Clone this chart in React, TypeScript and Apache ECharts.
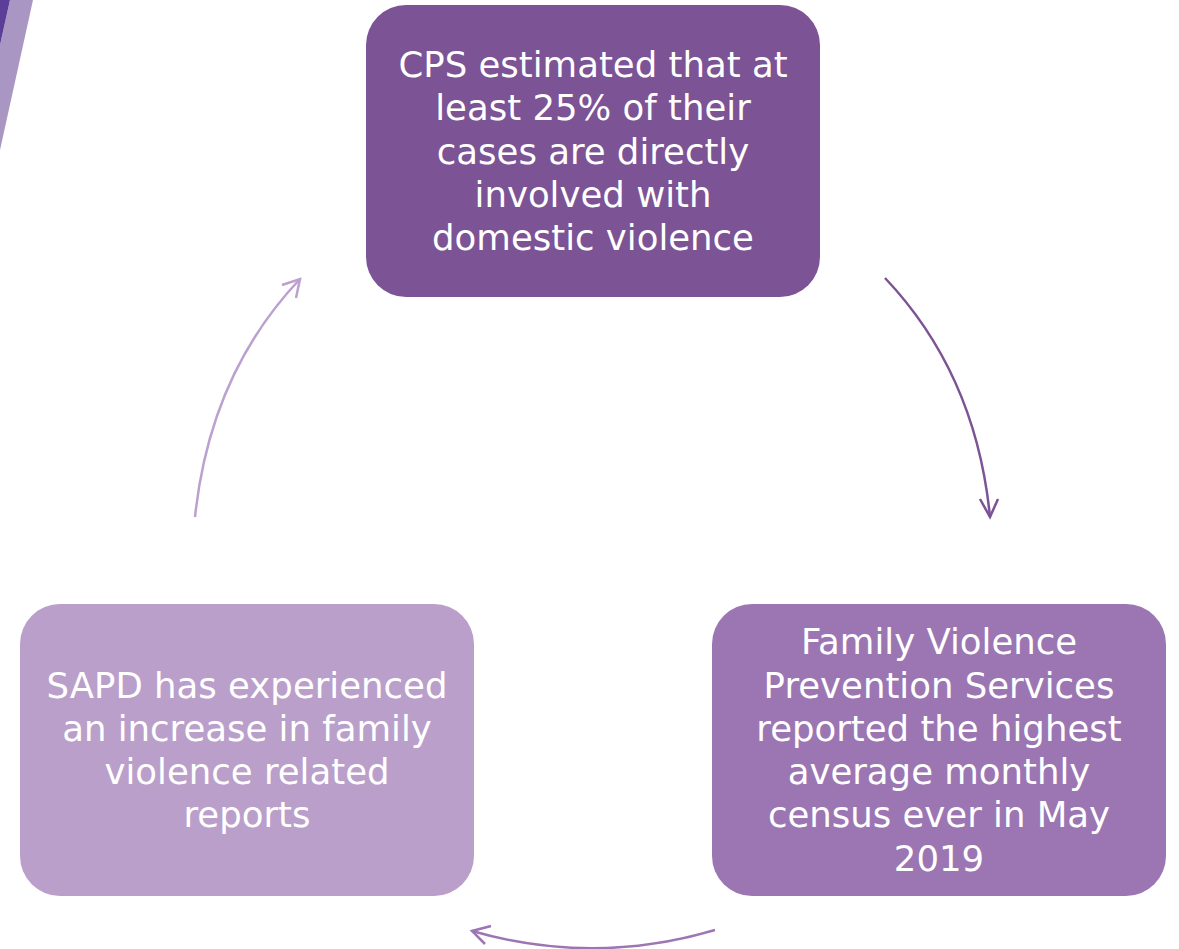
import React, { useEffect, useRef } from "react";
import * as echarts from "echarts";

const boxTexts: string[] = [
  "CPS estimated that at\nleast 25% of their\ncases are directly\ninvolved with\ndomestic violence",
  "Family Violence\nPrevention Services\nreported the highest\naverage monthly\ncensus ever in May\n2019",
  "SAPD has experienced\nan increase in family\nviolence related\nreports",
];
const boxColors: string[] = ["#7C5395", "#9B76B3", "#BA9FCB"];
const boxRects: number[][] = [
  [366, 5, 454, 292],
  [712, 604, 454, 292],
  [20, 604, 454, 292],
];
// arrows: start, control, end, arrowhead arm1, arm2
const arrows: { pts: number[]; arms: number[][]; color: string }[] = [
  { pts: [885, 278, 976, 374, 990, 517], arms: [[980, 499], [998, 499]], color: "#7C5395" },
  { pts: [715, 930, 594, 966, 472, 931], arms: [[491, 926], [485, 944]], color: "#9B76B3" },
  { pts: [195, 517, 210, 374, 300, 279], arms: [[282, 285], [296, 298]], color: "#BCA1D0" },
];

export default function App() {
  const ref = useRef<HTMLDivElement>(null);
  useEffect(() => {
    if (!ref.current) return;
    const chart = echarts.init(ref.current, null, { renderer: "svg" });
    const elements: any[] = [];
    // corner decoration
    elements.push({
      type: "polygon",
      shape: { points: [[10, 0], [33, 0], [0, 150], [0, 45]] },
      style: { fill: "#AA96C2" },
    });
    elements.push({
      type: "polygon",
      shape: { points: [[0, 0], [10, 0], [0, 45]] },
      style: { fill: "#5C3E98" },
    });
    boxRects.forEach((r, i) => {
      elements.push({
        type: "rect",
        shape: { x: r[0], y: r[1], width: r[2], height: r[3], r: 40 },
        style: { fill: boxColors[i] },
      });
      elements.push({
        type: "text",
        x: r[0] + r[2] / 2,
        y: r[1] + r[3] / 2,
        style: {
          text: boxTexts[i],
          fill: "#ffffff",
          fontFamily: "DejaVu Sans",
          fontSize: 35.5,
          lineHeight: 43.3,
          align: "center",
          verticalAlign: "middle",
        },
      });
    });
    arrows.forEach((a) => {
      const p = a.pts;
      elements.push({
        type: "bezierCurve",
        shape: { x1: p[0], y1: p[1], cpx1: p[2], cpy1: p[3], x2: p[4], y2: p[5] },
        style: { stroke: a.color, lineWidth: 2.5, fill: "none" },
      });
      elements.push({
        type: "polyline",
        shape: { points: [a.arms[0], [p[4], p[5]], a.arms[1]] },
        style: { stroke: a.color, lineWidth: 2.5, fill: "none" },
      });
    });
    chart.setOption({
      animation: false,
      backgroundColor: "#ffffff",
      graphic: { elements },
    });
    return () => chart.dispose();
  }, []);
  return (
    <div
      ref={ref}
      style={{ position: "absolute", left: 0, top: 0, width: 1179, height: 949 }}
    />
  );
}
